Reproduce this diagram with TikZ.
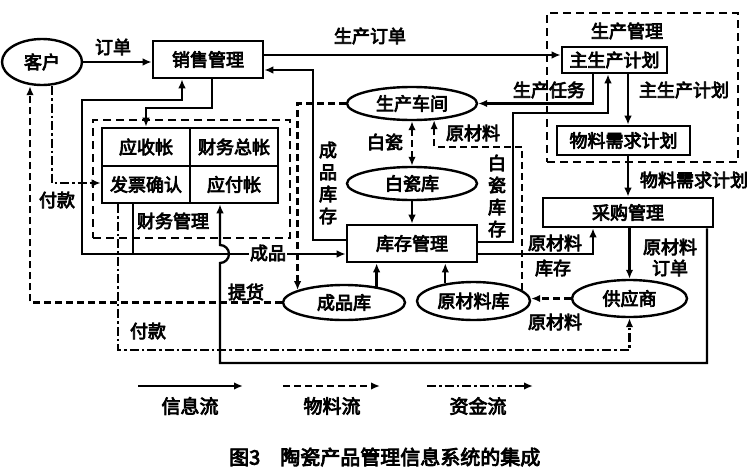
\documentclass[tikz,border=0pt]{standalone}
\usepackage{fontspec}
\setmainfont{Noto Sans CJK SC}[AutoFakeBold=4]
\usetikzlibrary{arrows.meta,shapes.geometric}
\tikzset{
  txt/.style={font=\fontsize{18}{21}\selectfont\bfseries},
  box/.style={txt, draw, line width=2.6pt, rectangle, inner sep=0pt},
  ell/.style={txt, draw, line width=2.4pt, ellipse, inner sep=0pt},
  grp/.style={draw, line width=2.4pt, dash pattern=on 8pt off 5pt, rectangle, inner sep=0pt},
  flow/.style={line width=2.3pt},
  arr/.style={-{Latex[length=9pt,width=7.5pt]}},
  arrboth/.style={{Latex[length=9pt,width=7.5pt]}-{Latex[length=9pt,width=7.5pt]}},
  mat/.style={line width=2.3pt, dash pattern=on 7pt off 4pt},
  money/.style={line width=2.3pt, dash pattern=on 9pt off 3pt on 2.5pt off 3pt},
  lbl/.style={txt, inner sep=1pt},
  vlbl/.style={inner sep=1pt, align=center, font=\fontsize{18}{22}\selectfont\bfseries},
}
\begin{document}
\begin{tikzpicture}[x=1pt,y=-1pt]
\fill[white] (0,0) rectangle (754,471);
\useasboundingbox (0,0) rectangle (754,471);

% groups
\node[grp, minimum width=197pt, minimum height=118pt] (cwgl) at (191.5,179) {};
\node[grp, minimum width=191pt, minimum height=149pt] (scgl) at (642.5,87.5) {};

% nodes
\node[ell, minimum width=80pt, minimum height=46pt] (kehu) at (42,62) {客户};
\node[box, minimum width=110pt, minimum height=37pt] (xs) at (208,59.5) {销售管理};
\node[box, minimum width=105pt, minimum height=26pt] (zhu) at (614.5,60) {主生产计划};
\node[box, minimum width=133pt, minimum height=29pt] (wl) at (623.5,140.5) {物料需求计划};
\node[box, minimum width=170pt, minimum height=29pt] (cg) at (628,212.5) {采购管理};
\node[ell, minimum width=130pt, minimum height=33pt] (scj) at (412,103.5) {生产车间};
\node[ell, minimum width=130pt, minimum height=33pt] (bck) at (412,183.5) {白瓷库};
\node[box, minimum width=130pt, minimum height=37pt] (kc) at (412,243.5) {库存管理};
\node[ell, minimum width=122pt, minimum height=35pt] (cpk) at (344,302.5) {成品库};
\node[ell, minimum width=113pt, minimum height=38pt] (ylk) at (473.5,301) {原材料库};
\node[ell, minimum width=115pt, minimum height=37pt] (gys) at (629.5,298.5) {供应商};

% finance table
\node[box, minimum width=88pt, minimum height=38pt] (ysz) at (146,147) {应收帐};
\node[box, minimum width=88pt, minimum height=38pt] (cwz) at (234,147) {财务总帐};
\node[box, minimum width=88pt, minimum height=37pt] (fp) at (146,184.5) {发票确认};
\node[box, minimum width=88pt, minimum height=37pt] (yfz) at (234,184.5) {应付帐};

% labels
\node[lbl] at (113,47) {订单};
\node[lbl] at (370,36) {生产订单};
\node[lbl] at (627,31) {生产管理};
\node[lbl] at (684,90) {主生产计划};
\node[lbl] at (549,90) {生产任务};
\node[lbl] at (694,180) {物料需求计划};
\node[lbl] at (385,142) {白瓷};
\node[lbl] at (473,133) {原材料};
\node[vlbl] at (328,183) {成\\品\\库\\存};
\node[vlbl] at (497,196) {白\\瓷\\库\\存};
\node[lbl] at (555,243) {原材料};
\node[lbl] at (553,268) {库存};
\node[lbl] at (670,247) {原材料};
\node[lbl] at (670,268) {订单};
\node[lbl] at (555,322) {原材料};
\node[lbl] at (246,292) {提货};
\node[lbl] at (57,200) {付款};
\node[lbl] at (148,331) {付款};
\node[lbl] at (173,221) {财务管理};

% information flow
\draw[flow,arr] (kehu.east) -- (xs.west |- kehu.east);
\draw[flow,arr] (xs.east |- 0,55) -- (zhu.west |- 0,55);
\draw[flow,arr] (kc.west |- 0,240) -| (313,70) -- (xs.east |- 0,70);
\draw[flow,arr] (zhu.south -| 628,0) -- (wl.north -| 628,0);
\draw[flow,arr] (wl.south -| 628,0) -- (cg.north -| 628,0);
\draw[flow,arr] (zhu.south -| 593,0) |- (scj.east);
\draw[flow,arr] (kc.east |- 0,242) -| (513,113) -| (zhu.south -| 608,0);
\draw[flow,arr] (kc.east |- 0,254) -| (cg.south -| 593,0);
\draw[flow,arr] (cg.south -| gys.north) -- (gys.north);
\draw[flow,arr] (cg.south -| 707,0) |- (220,363) -- (220,263)
   arc[start angle=-90,end angle=90,radius=9pt] -- (yfz.south -| 220,0);
\draw[flow,arr] (xs.south -| 212,0) |- (ysz.north |- 0,108) -- (ysz.north);
\draw[flow,arrboth] (xs.south -| 182,0) |- (82,100) |- (kc.west |- 0,254);
\draw[flow] (fp.south -| 133,0) -- (133,254);
\node[lbl, fill=white] at (268,253) {成品};
\draw[flow,arr] (bck.south) -- (kc.north);
\draw[flow,arr] (cpk.26) -- (cpk.26 |- kc.south);
\draw[flow,arr] (ylk.148) -- (ylk.148 |- kc.south);

% material flow
\draw[mat,arr] (scj.west) -| (cpk.165);
\draw[mat,arrboth] (scj.south) -- (bck.north);
\draw[mat,arr] (ylk.13) |- (scj.323 |- 0,147) -- (scj.323);
\draw[mat,arr] (gys.west) -- (ylk.east |- gys.west);
\draw[mat,arr] (cpk.west) -| (kehu.south -| 30,0);

% money flow
\draw[money,arr] (kehu.south -| 52,0) |- (fp.west |- 0,183);
\draw[money,arr] (fp.south -| 118,0) |- (gys.south |- 0,350) -- (gys.south);

% legend
\coordinate (l1a) at (138,386); \coordinate (l1b) at (243,386);
\coordinate (l2a) at (283,386); \coordinate (l2b) at (380,386);
\coordinate (l3a) at (427,386); \coordinate (l3b) at (533,386);
\draw[flow,arr] (l1a) -- (l1b);
\draw[mat,arr] (l2a) -- (l2b);
\draw[money,arr] (l3a) -- (l3b);
\node[lbl, font=\fontsize{19}{21}\selectfont\bfseries] at (190,406) {信息流};
\node[lbl, font=\fontsize{19}{21}\selectfont\bfseries] at (332,406) {物料流};
\node[lbl, font=\fontsize{19}{21}\selectfont\bfseries] at (478,406) {资金流};
\node[lbl, anchor=west, font=\fontsize{20}{22}\selectfont\bfseries] at (228,457) {图3\quad 陶瓷产品管理信息系统的集成};
\end{tikzpicture}
\end{document}
